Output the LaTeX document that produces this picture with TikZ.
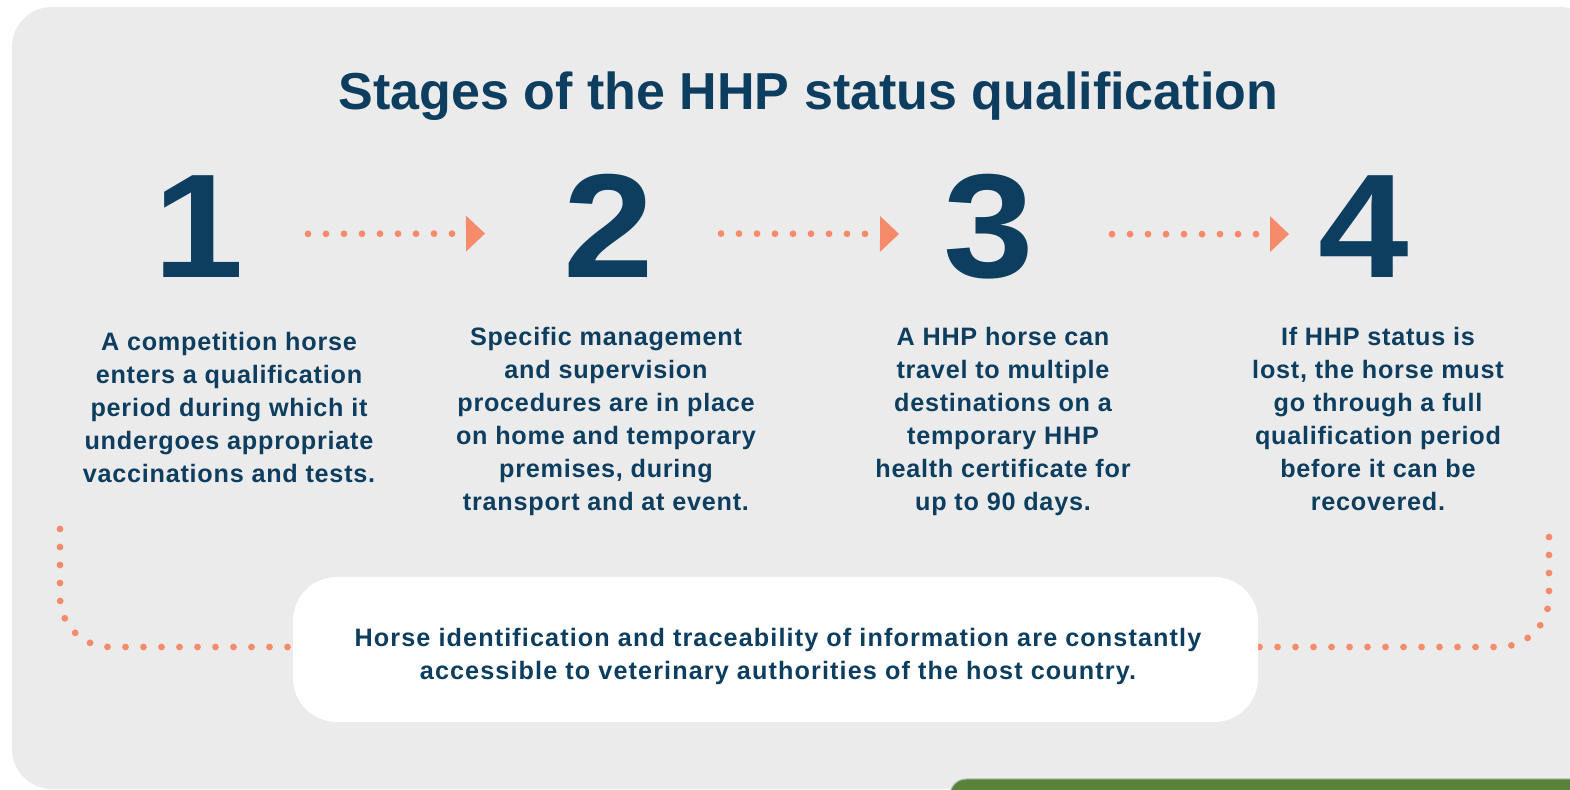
\documentclass[tikz,border=0pt]{standalone}
\usepackage{fontspec}
\setmainfont{Liberation Sans}
\newfontfamily\bodyfont[LetterSpace=3]{Liberation Sans}
\newfontfamily\boxfont[LetterSpace=4.4]{Liberation Sans}
\usetikzlibrary{arrows.meta}
\definecolor{navy}{HTML}{0D3E5F}
\definecolor{salmon}{HTML}{F68B6C}
\definecolor{bggrey}{HTML}{EBEBEB}
\definecolor{leaf}{HTML}{58843A}
\definecolor{edgegrey}{HTML}{BEBEBE}
\pgfdeclarelayer{backlayer}
\pgfdeclarelayer{midlayer}
\pgfsetlayers{backlayer,midlayer,main}
\begin{document}
\begin{tikzpicture}[x=0.5pt,y=-0.5pt,
  titlestyle/.style={text=navy, inner sep=0pt, anchor=base, font=\fontsize{26pt}{30pt}\selectfont\bfseries},
  numstyle/.style={text=navy, inner sep=0pt, anchor=base, font=\fontsize{74pt}{74pt}\selectfont\bfseries},
  desc/.style={text=navy, inner sep=0pt, align=center, anchor=north, font=\bodyfont\bfseries\fontsize{12.6pt}{16.5pt}\selectfont},
  infobox/.style={fill=white, rounded corners=22pt, minimum width=482.5pt, minimum height=72.5pt, inner sep=0pt},
  infotext/.style={inner sep=0pt, align=center, text=navy, font=\boxfont\bfseries\fontsize{12.6pt}{16.5pt}\selectfont},
  flow/.style={salmon, line width=3.4pt, dash pattern=on 0pt off 9pt, line cap=round, -{Triangle[length=9.5pt,width=18pt,line width=0pt]}},
  bracket/.style={salmon, line width=3.4pt, dash pattern=on 0pt off 9pt, line cap=round, rounded corners=25pt},
]
\useasboundingbox (0,0) rectangle (1570,790);
\begin{pgfonlayer}{backlayer}
\clip (0,0) rectangle (1570,790);
\fill[white] (0,0) rectangle (1570,790);
\fill[bggrey, rounded corners=20pt] (12,7) rectangle (1600,789);
\end{pgfonlayer}

\node[titlestyle] (title) at (808.5,110) {Stages of the HHP status qualification};

\node[numstyle] (n1) at (199,278) {\scalebox{1.1}[1]{1}};
\node[numstyle] (n2) at (608.5,278) {\scalebox{1.1}[1]{2}};
\node[numstyle] (n3) at (989,278) {\scalebox{1.1}[1]{3}};
\node[numstyle] (n4) at (1364,278) {\scalebox{1.1}[1]{4}};

\draw[flow, shorten <=54.5pt, shorten >=61.75pt] ([yshift=-3.5pt]n1.center) -- ([yshift=-3.5pt]n2.center);
\draw[flow, shorten <=56.25pt, shorten >=45pt] ([yshift=-3.5pt]n2.center) -- ([yshift=-3.5pt]n3.center);
\draw[flow, shorten <=61.5pt, shorten >=37.5pt] ([yshift=-3.5pt]n3.center) -- ([yshift=-3.5pt]n4.center);

\node[desc] (d1) at (229,332) {A competition horse\\enters a qualification\\period during which it\\undergoes appropriate\\vaccinations and tests.};
\node[desc] (d2) at (606,327) {Specific management\\and supervision\\procedures are in place\\on home and temporary\\premises, during\\transport and at event.};
\node[desc] (d3) at (1003,327) {A HHP horse can\\travel to multiple\\destinations on a\\temporary HHP\\health certificate for\\up to 90 days.};
\node[desc] (d4) at (1378,327) {If HHP status is\\lost, the horse must\\go through a full\\qualification period\\before it can be\\recovered.};

\coordinate (lt) at (60,529);
\coordinate (rt) at (1549,537);
\node[infobox] (info) at (775.5,649.5) {};
\node[infotext] (infot) at (778,656.5) {Horse identification and traceability of information are constantly\\accessible to veterinary authorities of the host country.};
\begin{pgfonlayer}{midlayer}
\draw[bracket] (lt) |- ([yshift=1.25pt]info.west);
\draw[bracket] (rt) |- ([yshift=1.25pt]info.east);
\end{pgfonlayer}

\begin{scope}
\clip (0,0) rectangle (1570,790);
\fill[leaf, draw=edgegrey, line width=0.5pt, rounded corners=8pt] (950,779) rectangle (1620,830);
\end{scope}
\end{tikzpicture}
\end{document}
